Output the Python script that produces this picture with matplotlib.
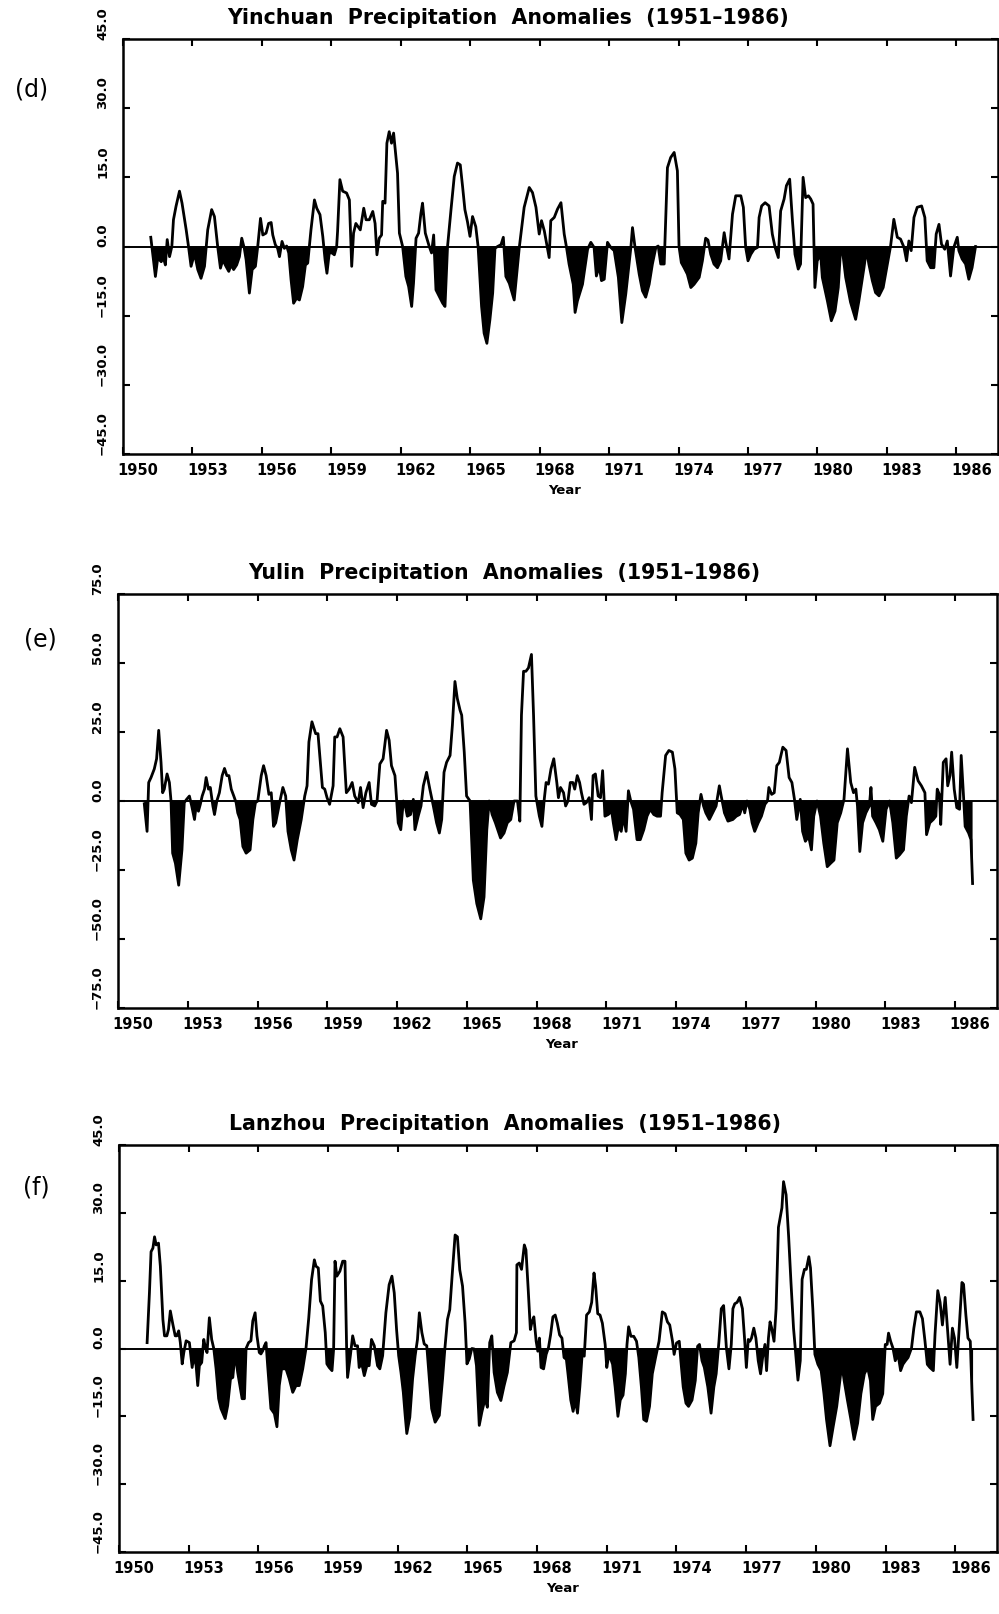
import matplotlib
matplotlib.use("Agg")
import matplotlib.pyplot as plt
import matplotlib.transforms as mtransforms
import numpy as np

# Yinchuan (d)
yinchuan_year = [1951.20, 1951.40, 1951.50, 1951.65, 1951.75, 1951.83, 1951.91, 1952.01, 1952.11, 1952.18,
                 1952.29, 1952.44, 1952.55, 1952.73, 1952.83, 1952.94, 1953.09, 1953.23, 1953.37, 1953.52,
                 1953.66, 1953.83, 1953.95, 1954.09, 1954.21, 1954.31, 1954.45, 1954.57, 1954.67, 1954.78,
                 1954.91, 1955.03, 1955.13, 1955.24, 1955.32, 1955.46, 1955.58, 1955.72, 1955.82, 1955.94,
                 1956.04, 1956.18, 1956.29, 1956.40, 1956.47, 1956.58, 1956.68, 1956.76, 1956.87, 1956.97,
                 1957.07, 1957.16, 1957.26, 1957.37, 1957.50, 1957.62, 1957.76, 1957.88, 1957.98, 1958.12,
                 1958.27, 1958.37, 1958.51, 1958.63, 1958.73, 1958.81, 1958.91, 1959.03, 1959.13, 1959.23,
                 1959.27, 1959.37, 1959.49, 1959.66, 1959.78, 1959.88, 1959.96, 1960.06, 1960.25, 1960.40,
                 1960.50, 1960.64, 1960.79, 1960.89, 1960.97, 1961.07, 1961.17, 1961.22, 1961.32, 1961.40,
                 1961.50, 1961.60, 1961.69, 1961.86, 1961.94, 1962.08, 1962.22, 1962.34, 1962.47, 1962.55,
                 1962.66, 1962.77, 1962.87, 1962.94, 1963.06, 1963.23, 1963.33, 1963.42, 1963.52, 1963.66,
                 1963.81, 1963.91, 1964.02, 1964.17, 1964.31, 1964.45, 1964.57, 1964.67, 1964.77, 1964.88,
                 1964.99, 1965.10, 1965.24, 1965.34, 1965.49, 1965.60, 1965.72, 1965.85, 1965.97, 1966.07,
                 1966.18, 1966.33, 1966.43, 1966.54, 1966.69, 1966.90, 1967.12, 1967.33, 1967.55, 1967.69,
                 1967.84, 1967.98, 1968.08, 1968.20, 1968.41, 1968.48, 1968.63, 1968.77, 1968.92, 1969.06,
                 1969.16, 1969.27, 1969.45, 1969.53, 1969.63, 1969.85, 1970.07, 1970.21, 1970.35, 1970.45,
                 1970.57, 1970.67, 1970.79, 1970.93, 1971.07, 1971.22, 1971.40, 1971.55, 1971.72, 1971.94,
                 1972.01, 1972.12, 1972.30, 1972.44, 1972.58, 1972.73, 1972.87, 1973.02, 1973.12, 1973.23,
                 1973.38, 1973.52, 1973.66, 1973.81, 1973.95, 1974.02, 1974.12, 1974.24, 1974.38, 1974.53,
                 1974.67, 1974.89, 1975.03, 1975.17, 1975.27, 1975.39, 1975.53, 1975.68, 1975.82, 1975.97,
                 1976.04, 1976.18, 1976.33, 1976.47, 1976.69, 1976.80, 1976.90, 1977.00, 1977.12, 1977.26,
                 1977.41, 1977.48, 1977.59, 1977.74, 1977.91, 1978.05, 1978.17, 1978.31, 1978.41, 1978.56,
                 1978.66, 1978.80, 1978.92, 1979.03, 1979.17, 1979.27, 1979.38, 1979.49, 1979.61, 1979.71,
                 1979.81, 1979.89, 1979.99, 1980.14, 1980.21, 1980.43, 1980.60, 1980.76, 1980.90, 1981.00,
                 1981.10, 1981.22, 1981.43, 1981.65, 1981.79, 1982.01, 1982.12, 1982.22, 1982.37, 1982.51,
                 1982.66, 1982.84, 1983.02, 1983.16, 1983.30, 1983.45, 1983.59, 1983.74, 1983.85, 1983.95,
                 1984.05, 1984.17, 1984.31, 1984.50, 1984.64, 1984.74, 1984.89, 1985.03, 1985.13, 1985.25,
                 1985.36, 1985.50, 1985.61, 1985.75, 1985.89, 1986.04, 1986.11, 1986.25, 1986.40, 1986.54,
                 1986.68, 1986.83]
yinchuan_anom = [2.0, -6.5, -2.5, -3.3, -2.5, -4.0, 1.5, -2.2, 0.0, 5.8,
                 8.7, 12.0, 9.4, 3.6, 0.0, -4.3, -1.5, -5.0, -6.9, -4.3,
                 3.6, 8.0, 6.5, 0.0, -4.7, -2.9, -4.3, -5.4, -4.0, -5.0,
                 -4.0, -2.2, 1.8, -0.4, -2.9, -10.1, -5.0, -4.3, 0.0, 6.1,
                 2.5, 2.9, 5.0, 5.2, 2.5, 0.4, -0.4, -2.2, 1.1, -0.4,
                 0.1, -1.4, -7.2, -12.3, -11.2, -11.6, -8.7, -4.0, -3.6, 3.6,
                 10.1, 8.3, 6.9, 2.2, -2.9, -5.8, -1.4, -1.4, -1.8, 0.0,
                 3.3, 14.5, 12.0, 11.6, 10.1, -4.3, 2.9, 5.0, 3.6, 8.3,
                 5.8, 5.8, 7.6, 5.0, -1.8, 1.8, 2.5, 9.8, 9.4, 22.4,
                 24.9, 22.4, 24.6, 15.9, 2.9, 0.0, -6.5, -8.7, -13.0, -8.0,
                 1.8, 2.9, 7.2, 9.4, 2.9, 0.0, -1.4, 2.5, -9.4, -10.8,
                 -12.3, -13.0, 0.0, 8.0, 15.2, 18.1, 17.7, 13.0, 8.0, 5.4,
                 2.2, 6.5, 4.3, 0.0, -13.0, -18.8, -21.0, -15.9, -10.1, -0.4,
                 0.0, 0.4, 2.0, -6.5, -8.0, -11.6, -0.2, 8.5, 12.8, 11.7,
                 8.5, 2.7, 5.6, 3.4, -2.4, 5.6, 6.3, 8.1, 9.5, 2.7,
                 -0.2, -3.8, -8.2, -14.3, -11.8, -8.2, -0.6, 0.9, -0.2, -6.4,
                 -4.2, -7.4, -7.1, 0.9, -0.2, -0.9, -6.7, -16.5, -10.3, -0.2,
                 4.1, -0.2, -6.0, -9.6, -11.0, -8.2, -3.8, -0.2, 0.1, -3.8,
                 -3.8, 17.1, 19.3, 20.4, 16.4, 0.0, -3.5, -4.6, -6.0, -8.9,
                 -8.2, -6.7, -3.1, 1.8, 1.4, -1.7, -3.8, -4.6, -3.1, 3.0,
                 0.9, -2.7, 7.0, 11.0, 11.0, 8.5, -0.2, -3.1, -1.7, -0.6,
                 -0.2, 6.3, 8.8, 9.5, 8.8, 2.7, -0.2, -2.4, 7.7, 10.3,
                 13.2, 14.6, 5.6, -1.7, -4.9, -3.8, 15.0, 10.6, 11.0, 10.3,
                 9.2, -8.9, -3.1, -1.7, -6.7, -11.8, -16.1, -14.0, -8.9, -0.6,
                 -1.7, -6.7, -12.1, -15.8, -11.8, -4.6, -0.6, -3.8, -7.4, -10.0,
                 -10.7, -8.9, -3.8, 0.1, 5.9, 2.0, 1.6, -0.2, -3.1, 1.2,
                 -0.9, 6.3, 8.5, 8.8, 6.3, -3.1, -4.6, -4.6, 2.7, 4.8,
                 0.5, -0.6, 1.2, -6.4, -0.2, 2.0, -0.9, -2.7, -3.8, -7.1,
                 -4.6, 0.0]

# Yulin (e)
yulin_year = [1951.13, 1951.25, 1951.32, 1951.42, 1951.56, 1951.66, 1951.75, 1951.85, 1951.92, 1951.99,
              1952.11, 1952.21, 1952.28, 1952.35, 1952.47, 1952.61, 1952.75, 1952.85, 1952.95, 1953.07,
              1953.17, 1953.29, 1953.36, 1953.46, 1953.54, 1953.62, 1953.72, 1953.79, 1953.89, 1953.97,
              1954.08, 1954.15, 1954.25, 1954.36, 1954.48, 1954.58, 1954.68, 1954.77, 1954.87, 1954.98,
              1955.08, 1955.15, 1955.25, 1955.37, 1955.51, 1955.68, 1955.80, 1955.91, 1956.01, 1956.16,
              1956.26, 1956.37, 1956.49, 1956.59, 1956.69, 1956.78, 1956.95, 1957.09, 1957.21, 1957.31,
              1957.45, 1957.57, 1957.71, 1957.88, 1958.03, 1958.13, 1958.21, 1958.34, 1958.50, 1958.60,
              1958.70, 1958.79, 1958.89, 1958.99, 1959.10, 1959.25, 1959.32, 1959.42, 1959.54, 1959.68,
              1959.82, 1959.94, 1960.07, 1960.18, 1960.33, 1960.43, 1960.54, 1960.66, 1960.80, 1960.90,
              1961.04, 1961.14, 1961.26, 1961.40, 1961.55, 1961.66, 1961.76, 1961.91, 1962.05, 1962.16,
              1962.27, 1962.34, 1962.44, 1962.58, 1962.70, 1962.77, 1962.91, 1963.03, 1963.13, 1963.27,
              1963.41, 1963.56, 1963.70, 1963.82, 1963.92, 1964.02, 1964.13, 1964.28, 1964.38, 1964.49,
              1964.59, 1964.71, 1964.78, 1964.89, 1964.99, 1965.14, 1965.28, 1965.43, 1965.60, 1965.74,
              1965.86, 1965.96, 1966.09, 1966.23, 1966.45, 1966.60, 1966.74, 1966.89, 1967.03, 1967.18,
              1967.28, 1967.35, 1967.44, 1967.54, 1967.65, 1967.78, 1967.87, 1967.97, 1968.12, 1968.23,
              1968.33, 1968.41, 1968.51, 1968.62, 1968.74, 1968.87, 1968.94, 1969.03, 1969.16, 1969.25,
              1969.35, 1969.45, 1969.56, 1969.64, 1969.75, 1969.85, 1969.93, 1970.04, 1970.14, 1970.26,
              1970.36, 1970.43, 1970.53, 1970.65, 1970.75, 1970.84, 1970.94, 1971.08, 1971.23, 1971.30,
              1971.42, 1971.52, 1971.64, 1971.74, 1971.85, 1971.95, 1972.05, 1972.17, 1972.32, 1972.46,
              1972.61, 1972.75, 1972.89, 1973.04, 1973.18, 1973.33, 1973.40, 1973.55, 1973.69, 1973.84,
              1973.95, 1974.05, 1974.17, 1974.31, 1974.42, 1974.56, 1974.70, 1974.85, 1974.95, 1975.07,
              1975.18, 1975.28, 1975.43, 1975.57, 1975.72, 1975.86, 1975.94, 1976.08, 1976.23, 1976.44,
              1976.59, 1976.73, 1976.88, 1976.95, 1977.05, 1977.17, 1977.27, 1977.38, 1977.53, 1977.67,
              1977.82, 1977.93, 1977.99, 1978.11, 1978.22, 1978.33, 1978.44, 1978.59, 1978.73, 1978.86,
              1978.98, 1979.09, 1979.19, 1979.34, 1979.44, 1979.56, 1979.70, 1979.82, 1979.92, 1980.06,
              1980.21, 1980.35, 1980.50, 1980.64, 1980.79, 1980.93, 1981.08, 1981.22, 1981.37, 1981.51,
              1981.63, 1981.73, 1981.80, 1981.90, 1982.02, 1982.16, 1982.31, 1982.38, 1982.45, 1982.60,
              1982.74, 1982.89, 1983.03, 1983.18, 1983.32, 1983.47, 1983.61, 1983.78, 1983.90, 1984.02,
              1984.12, 1984.26, 1984.41, 1984.55, 1984.70, 1984.77, 1984.91, 1985.06, 1985.17, 1985.23,
              1985.32, 1985.38, 1985.49, 1985.61, 1985.68, 1985.78, 1985.85, 1985.96, 1986.07, 1986.19,
              1986.26, 1986.36, 1986.43, 1986.58, 1986.68, 1986.75]
yulin_anom = [-1.0, -11.0, 6.7, 8.5, 11.6, 15.3, 25.6, 14.0, 3.0, 4.3,
              9.8, 6.7, 0.0, -18.9, -22.6, -30.5, -17.7, -0.6, 0.6, 1.8,
              -1.8, -6.7, -1.8, -3.7, -1.2, 1.8, 4.3, 8.5, 4.3, 4.9,
              -1.8, -4.9, 0.0, 3.0, 9.2, 11.8, 9.2, 9.2, 4.3, 1.8,
              -0.6, -4.3, -6.7, -16.5, -18.9, -17.7, -6.7, -0.6, 0.0, 9.2,
              12.8, 9.2, 2.4, 3.0, -9.2, -7.9, -0.6, 4.9, 1.8, -11.0,
              -17.7, -21.4, -14.0, -6.7, 1.8, 5.5, 21.4, 28.7, 24.4, 24.4,
              14.0, 4.9, 4.3, 1.2, -1.2, 5.5, 23.2, 23.2, 26.2, 23.2,
              3.0, 4.3, 6.7, 1.8, -0.6, 4.9, -2.4, 3.0, 6.7, -1.2,
              -1.8, 0.0, 13.4, 15.3, 25.6, 22.0, 12.8, 9.2, -7.9, -10.4,
              0.0, -1.2, -5.5, -4.9, 0.6, -10.4, -5.5, -1.8, 5.5, 10.4,
              4.3, -1.8, -7.9, -11.6, -6.7, 10.4, 14.0, 16.5, 27.5, 43.3,
              37.2, 32.9, 31.1, 17.7, 1.8, 0.0, -28.7, -37.2, -42.7, -34.8,
              -10.4, 0.0, -4.9, -7.9, -13.4, -11.6, -7.9, -6.7, 0.0, 0.0,
              -7.3, 31.1, 47.0, 47.0, 48.2, 53.1, 31.1, 1.8, -5.5, -9.2,
              0.6, 6.7, 6.1, 11.6, 15.3, 6.7, 1.2, 4.9, 3.0, -1.8,
              0.0, 6.7, 6.7, 4.3, 9.2, 6.7, 3.0, -1.2, -0.6, 1.2,
              -6.7, 9.2, 9.8, 1.8, 1.2, 11.0, -5.5, -4.9, -3.7, -7.9,
              -14.0, -9.2, -11.0, -5.5, -11.0, 3.7, 0.0, -3.0, -14.0, -14.0,
              -10.4, -5.5, -3.0, -4.9, -5.5, -5.5, 3.0, 16.5, 18.3, 17.7,
              11.6, -4.3, -4.9, -6.7, -18.9, -21.4, -20.7, -15.3, -4.3, 2.4,
              -1.8, -4.3, -6.7, -4.3, -1.8, 5.5, 1.8, -4.3, -7.3, -6.7,
              -5.5, -4.9, -1.2, -4.3, 0.0, -3.0, -7.9, -11.0, -7.9, -5.5,
              -1.2, 0.0, 4.9, 2.4, 3.0, 12.8, 14.0, 19.5, 18.3, 8.5,
              6.7, 0.6, -6.7, 0.6, -11.0, -14.6, -12.8, -17.7, -5.5, 0.0,
              -5.5, -15.3, -23.8, -22.6, -21.4, -7.9, -4.3, 0.6, 18.9, 6.7,
              3.0, 4.3, -1.8, -18.3, -7.9, -4.3, -1.8, 4.9, -5.5, -7.9,
              -10.4, -14.6, -3.0, 0.0, -7.9, -20.7, -19.5, -17.7, -5.5, 1.8,
              -0.6, 12.2, 7.3, 5.5, 3.0, -12.2, -7.9, -6.7, -5.5, 4.3,
              2.4, -8.5, 14.0, 15.3, 5.5, 9.2, 17.7, 4.3, -2.4, -3.0,
              16.5, 1.8, -9.2, -11.6, -14.0, -29.9]

# Lanzhou (f)
lanzhou_year = [1951.21, 1951.31, 1951.38, 1951.46, 1951.53, 1951.60, 1951.70, 1951.78, 1951.89, 1951.96,
                1952.06, 1952.13, 1952.21, 1952.32, 1952.42, 1952.49, 1952.57, 1952.64, 1952.72, 1952.79,
                1952.89, 1953.03, 1953.15, 1953.22, 1953.32, 1953.39, 1953.46, 1953.56, 1953.65, 1953.72,
                1953.79, 1953.89, 1953.99, 1954.08, 1954.18, 1954.29, 1954.39, 1954.57, 1954.68, 1954.80,
                1954.90, 1955.00, 1955.11, 1955.30, 1955.40, 1955.47, 1955.58, 1955.68, 1955.76, 1955.86,
                1955.94, 1956.04, 1956.11, 1956.19, 1956.26, 1956.33, 1956.40, 1956.54, 1956.69, 1956.80,
                1956.90, 1957.00, 1957.19, 1957.33, 1957.48, 1957.62, 1957.76, 1957.91, 1958.05, 1958.17,
                1958.29, 1958.41, 1958.48, 1958.58, 1958.67, 1958.77, 1958.88, 1958.95, 1959.05, 1959.17,
                1959.24, 1959.30, 1959.38, 1959.51, 1959.63, 1959.73, 1959.80, 1959.84, 1959.96, 1960.06,
                1960.16, 1960.27, 1960.34, 1960.44, 1960.56, 1960.67, 1960.77, 1960.87, 1960.99, 1961.13,
                1961.23, 1961.35, 1961.49, 1961.63, 1961.75, 1961.85, 1961.95, 1962.04, 1962.14, 1962.24,
                1962.32, 1962.39, 1962.52, 1962.64, 1962.75, 1962.85, 1962.93, 1963.04, 1963.14, 1963.25,
                1963.35, 1963.46, 1963.61, 1963.79, 1963.93, 1964.03, 1964.14, 1964.24, 1964.36, 1964.47,
                1964.57, 1964.67, 1964.79, 1964.90, 1964.98, 1965.08, 1965.19, 1965.29, 1965.39, 1965.51,
                1965.62, 1965.76, 1965.86, 1965.96, 1966.05, 1966.15, 1966.29, 1966.44, 1966.58, 1966.72,
                1966.87, 1967.01, 1967.11, 1967.13, 1967.23, 1967.33, 1967.45, 1967.52, 1967.62, 1967.71,
                1967.78, 1967.86, 1967.96, 1968.03, 1968.10, 1968.17, 1968.28, 1968.39, 1968.49, 1968.58,
                1968.68, 1968.78, 1968.87, 1968.97, 1969.07, 1969.16, 1969.26, 1969.33, 1969.45, 1969.55,
                1969.65, 1969.74, 1969.84, 1969.94, 1970.03, 1970.13, 1970.25, 1970.35, 1970.45, 1970.52,
                1970.61, 1970.71, 1970.81, 1970.93, 1971.00, 1971.07, 1971.15, 1971.25, 1971.36, 1971.48,
                1971.58, 1971.70, 1971.80, 1971.87, 1971.94, 1972.04, 1972.16, 1972.28, 1972.38, 1972.49,
                1972.59, 1972.71, 1972.84, 1972.96, 1973.10, 1973.25, 1973.39, 1973.51, 1973.61, 1973.71,
                1973.83, 1973.90, 1974.00, 1974.12, 1974.19, 1974.29, 1974.41, 1974.52, 1974.67, 1974.81,
                1974.91, 1974.99, 1975.10, 1975.20, 1975.35, 1975.49, 1975.61, 1975.71, 1975.83, 1975.93,
                1976.03, 1976.15, 1976.26, 1976.36, 1976.43, 1976.51, 1976.61, 1976.72, 1976.84, 1976.94,
                1977.01, 1977.09, 1977.16, 1977.23, 1977.33, 1977.42, 1977.52, 1977.62, 1977.71, 1977.81,
                1977.88, 1977.96, 1978.03, 1978.10, 1978.20, 1978.29, 1978.39, 1978.54, 1978.61, 1978.72,
                1978.83, 1978.93, 1979.04, 1979.15, 1979.23, 1979.33, 1979.41, 1979.51, 1979.59, 1979.70,
                1979.77, 1979.87, 1979.96, 1980.09, 1980.23, 1980.35, 1980.46, 1980.61, 1980.75, 1980.90,
                1981.00, 1981.12, 1981.22, 1981.36, 1981.51, 1981.65, 1981.80, 1981.94, 1982.09, 1982.23,
                1982.35, 1982.45, 1982.57, 1982.74, 1982.88, 1982.99, 1983.07, 1983.13, 1983.22, 1983.32,
                1983.42, 1983.54, 1983.65, 1983.75, 1983.86, 1983.97, 1984.12, 1984.22, 1984.33, 1984.48,
                1984.59, 1984.70, 1984.80, 1984.91, 1985.06, 1985.13, 1985.25, 1985.35, 1985.45, 1985.57,
                1985.68, 1985.78, 1985.88, 1985.97, 1986.07, 1986.17, 1986.29, 1986.36, 1986.46, 1986.55,
                1986.65, 1986.72, 1986.77]
lanzhou_anom = [1.3, 12.3, 21.4, 22.2, 24.7, 22.9, 23.3, 18.2, 6.4, 2.8,
                2.8, 4.2, 8.3, 5.3, 2.8, 2.8, 3.9, 1.3, -3.4, -0.9,
                1.7, 1.3, -4.2, -1.6, -3.8, -8.2, -3.8, -3.1, 2.0, 0.2,
                -0.9, 6.8, 2.0, 0.0, -4.5, -11.1, -13.3, -15.5, -12.6, -6.7,
                -6.4, -0.9, -5.3, -11.1, -11.1, 0.0, 1.3, 1.7, 6.1, 7.9,
                2.8, -0.9, -1.2, -0.5, 0.6, 1.3, -3.8, -13.3, -14.4, -17.3,
                -8.2, -4.5, -4.5, -6.7, -9.7, -8.2, -8.2, -4.5, 0.0, 6.8,
                15.2, 19.6, 18.2, 17.8, 10.5, 9.4, 3.5, -3.4, -4.2, -4.9,
                -0.1, 19.3, 16.0, 17.1, 19.3, 19.3, -0.1, -6.4, -1.6, 2.8,
                0.6, 0.6, -4.2, -3.1, -6.0, -3.8, -3.8, 2.0, 0.6, -3.8,
                -4.5, -1.6, 7.9, 14.1, 16.0, 12.3, 4.2, -1.6, -5.3, -9.7,
                -14.8, -18.8, -15.2, -6.7, -1.6, 2.0, 7.9, 3.5, 1.0, 0.6,
                -6.0, -13.3, -16.3, -14.8, -6.7, 0.0, 6.4, 8.6, 17.4, 25.1,
                24.7, 17.4, 13.8, 5.7, -3.4, -2.3, 0.0, -0.1, -3.8, -17.0,
                -14.1, -11.1, -13.0, 1.3, 2.8, -5.3, -9.7, -11.5, -8.2, -5.3,
                1.3, 1.7, 3.5, 18.5, 18.9, 17.5, 22.9, 21.8, 12.8, 4.2,
                5.9, 7.0, 1.6, -0.6, 2.3, -4.2, -4.5, -1.3, 0.2, 3.0,
                7.0, 7.4, 5.6, 3.0, 2.3, -2.0, -2.4, -5.6, -11.4, -13.9,
                -11.4, -14.3, -8.5, -1.3, -1.7, 7.4, 8.1, 10.2, 16.7, 13.8,
                7.7, 7.4, 5.6, 0.9, -4.2, -2.0, -2.0, -3.5, -8.5, -15.0,
                -11.4, -10.3, -5.6, 0.9, 4.8, 2.7, 2.7, 1.6, -2.0, -8.5,
                -15.7, -16.1, -12.8, -5.6, -2.0, 1.6, 8.1, 7.7, 5.9, 5.2,
                1.6, -1.3, 1.2, 1.6, -2.7, -8.5, -12.1, -12.8, -11.4, -7.1,
                0.5, 0.9, -2.7, -4.2, -8.5, -14.3, -8.5, -5.6, 1.6, 8.8,
                9.5, 0.1, -4.5, 0.9, 8.8, 9.9, 10.2, 11.3, 8.8, 1.6,
                -4.2, 2.0, 1.6, 2.3, 4.5, 2.3, -2.7, -5.6, -2.0, 0.9,
                -4.9, 2.3, 5.9, 4.5, 1.6, 8.8, 26.8, 31.1, 36.9, 34.0,
                24.7, 14.6, 4.5, -2.0, -7.0, -2.7, 15.3, 17.5, 17.5, 20.3,
                17.8, 8.8, -1.3, -3.5, -4.9, -10.0, -15.7, -21.5, -17.2, -12.8,
                -8.5, -3.5, -7.1, -11.4, -15.7, -20.1, -16.5, -10.0, -5.6, -4.2,
                -7.1, -15.7, -12.8, -12.1, -10.0, 0.9, 0.9, 3.4, 1.6, 0.1,
                -2.7, -1.3, -4.9, -3.5, -2.7, -2.0, 0.1, 4.5, 8.1, 8.1,
                6.6, 1.6, -3.5, -4.2, -4.9, 3.0, 12.8, 10.2, 5.2, 11.3,
                3.7, -3.5, 4.5, 2.3, -4.2, 4.5, 14.6, 14.2, 7.4, 2.3,
                1.6, -9.2, -15.7]

year_ticks = list(range(1950, 1987, 3))
titles = ["Yinchuan  Precipitation  Anomalies  (1951\u20131986)",
          "Yulin  Precipitation  Anomalies  (1951\u20131986)",
          "Lanzhou  Precipitation  Anomalies  (1951\u20131986)"]
panel_tags = ["(d)", "(e)", "(f)"]
y_limits = [45.0, 75.0, 45.0]

W, H = 999, 1615
fig = plt.figure(figsize=(W / 100, H / 100), dpi=100)

# axes boxes in pixels: left, top, right, bottom
boxes = [(123, 40, 998, 455), (118, 595, 997, 1009), (119, 1146, 997, 1553)]
tag_pos = [(32, 90), (40, 640), (36, 1188)]
series = [(yinchuan_year, yinchuan_anom), (yulin_year, yulin_anom), (lanzhou_year, lanzhou_anom)]


def draw_panel(ax, years, vals, lim, title):
    x = np.array(years)
    y = np.array(vals)
    ax.fill_between(x, y, 0, where=y < 0, interpolate=True, color="black", lw=0)
    ax.plot(x, y, color="black", lw=2.0, solid_joinstyle="round")
    ax.axhline(0, color="black", lw=1.4)
    ax.set_xlim(1950, 1987.8)
    ax.set_ylim(-lim, lim)
    step = lim / 3
    yt = [-lim + i * step for i in range(7)]
    ax.set_yticks(yt)
    ax.set_yticklabels(["%.1f" % v if v >= 0 else "\u2212%.1f" % -v for v in yt],
                       rotation=90, va="bottom", ha="right", fontsize=9.5, fontweight="bold")
    ax.set_xticks(year_ticks)
    ax.set_xticklabels([str(t) for t in year_ticks], fontsize=10.5, fontweight="bold")
    ax.tick_params(direction="in", top=True, right=True, length=5, width=1.5)
    ax.tick_params(axis="y", pad=10)
    ax.tick_params(axis="x", pad=6)
    shift = mtransforms.ScaledTranslation(0.15, 0, fig.dpi_scale_trans)
    for lab in ax.get_xticklabels():
        lab.set_transform(lab.get_transform() + shift)
    for sp in ax.spines.values():
        sp.set_linewidth(1.8)
    ax.text(0.44, 1.0, title, transform=ax.transAxes + mtransforms.ScaledTranslation(0, 0.22, fig.dpi_scale_trans),
            ha="center", va="center", fontsize=14.8, fontweight="bold")
    ax.text(0.505, 0.0, "Year", transform=ax.transAxes + mtransforms.ScaledTranslation(0, -0.36, fig.dpi_scale_trans),
            ha="center", va="center", fontsize=9.5, fontweight="bold")


for i, (l, t, r, b) in enumerate(boxes):
    ax = fig.add_axes([l / W, 1 - b / H, (r - l) / W, (b - t) / H])
    draw_panel(ax, series[i][0], series[i][1], y_limits[i], titles[i])
    fig.text(tag_pos[i][0] / W, 1 - tag_pos[i][1] / H, panel_tags[i], ha="center", va="center", fontsize=17)

fig.savefig("out.png", dpi=100)
